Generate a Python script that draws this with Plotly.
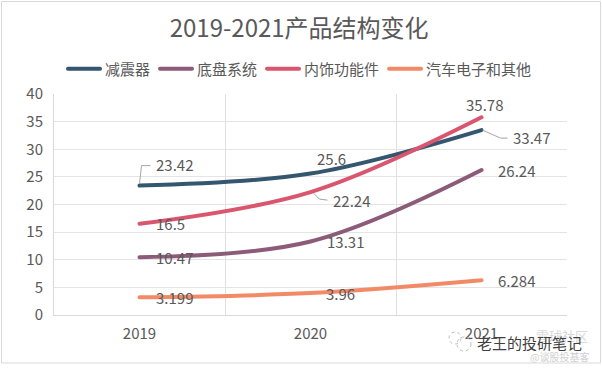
import plotly.graph_objects as go

years = ["2019", "2020", "2021"]
names = ["减震器", "底盘系统", "内饰功能件", "汽车电子和其他"]
shock = [23.42, 25.6, 33.47]
chassis = [10.47, 13.31, 26.24]
interior = [16.5, 22.24, 35.78]
electronics = [3.199, 3.96, 6.284]
series = [shock, chassis, interior, electronics]
colors = ["#34566f", "#8c5b78", "#d9566e", "#f28a68"]
# label pixel offsets relative to the points
offsets = [[(35, 21), (21, 15), (50, -7)],
           [(35, 0), (35, 0), (35, 0)],
           [(31, 0), (41, -8), (3, 13)],
           [(35, 0), (30, 0), (35, 0)]]
leaders = [(0, 23.42, "M 0 2 L 2 20 L 11 20"),
           (1, 22.24, "M 3 -1 L 9 -7 L 17 -8"),
           (2, 33.47, "M 1 0 L 19 -8 L 26 -8")]
TEXT = "#595959"
FONT = "Noto Sans CJK SC, Noto Sans, sans-serif"
W, H = 602, 370
L, T, R, B = 54, 94, 567, 315
def px(v): return (v - L) / (R - L)
def py(v): return (B - v) / (B - T)

fig = go.Figure()
for name, vals, c in zip(names, series, colors):
    fig.add_trace(go.Scatter(x=years, y=vals, name=name, mode="lines",
                             line=dict(color=c, width=4, shape="spline", smoothing=1.0),
                             hoverinfo="skip"))

for vals, off in zip(series, offsets):
    for i, (v, (dx, dy)) in enumerate(zip(vals, off)):
        fig.add_annotation(x=i, y=v, xref="x", yref="y", text=str(v), showarrow=False,
                           xshift=dx, yshift=dy, font=dict(size=15, color=TEXT, family=FONT))

for i, v, path in leaders:
    fig.add_shape(type="path", xsizemode="pixel", ysizemode="pixel", xref="x", yref="y",
                  xanchor=i, yanchor=v, path=path, line=dict(color="#a6a6a6", width=1))

# chart frame
fig.add_shape(type="rect", xref="paper", yref="paper", x0=px(1.5), x1=px(600.5), y0=py(363), y1=py(1.5),
              line=dict(color="#d9d9d9", width=1), layer="below")

# watermark
for cx, cy, r in [(455, 338, 6), (464, 344, 7)]:
    fig.add_shape(type="circle", xref="paper", yref="paper", x0=px(cx - r), x1=px(cx + r),
                  y0=py(cy + r), y1=py(cy - r), line=dict(color="#bdbdbd", width=1, dash="dot"))
fig.add_annotation(xref="paper", yref="paper", x=px(590), y=py(335), text="雪球社区", showarrow=False,
                   xanchor="right", yanchor="middle", font=dict(size=13, color="#d8d8d8", family=FONT))
fig.add_annotation(xref="paper", yref="paper", x=px(584), y=py(342), text="老王的投研笔记", showarrow=False,
                   xanchor="right", yanchor="middle", font=dict(size=15, color="#3f3f3f", family=FONT))
fig.add_annotation(xref="paper", yref="paper", x=px(591), y=py(356), text="@谈股投基客", showarrow=False,
                   xanchor="right", yanchor="middle", font=dict(size=10, color="#cfcfcf", family=FONT))

fig.update_layout(
    width=W, height=H, margin=dict(l=L, r=W - R, t=T, b=H - B),
    paper_bgcolor="white", plot_bgcolor="white",
    title=dict(text="2019-2021产品结构变化", x=0.497, xanchor="center", xref="container",
               y=0.924, yanchor="middle", font=dict(size=24, color=TEXT, family=FONT)),
    legend=dict(orientation="h", x=px(300), xanchor="center", y=py(69), yanchor="middle",
                font=dict(size=15, color=TEXT, family=FONT), itemwidth=32),
    xaxis=dict(type="category", tickson="boundaries", range=[-0.5, 2.5], showgrid=True,
               gridcolor="#e0e0e0", linecolor="#d9d9d9", showline=True, ticks="", ticklen=0,
               ticklabelstandoff=5, tickfont=dict(size=15, color=TEXT, family=FONT)),
    yaxis=dict(range=[0, 40], dtick=5, showgrid=True, gridcolor="#e4e4e4", linecolor="#d9d9d9",
               showline=True, zeroline=False, ticks="", ticklen=0,
               ticklabelstandoff=7, tickfont=dict(size=15, color=TEXT, family=FONT)),
)
post = """
document.documentElement.style.margin='0';
document.body.style.margin='0';
document.querySelectorAll('.js-line, .legendlines path').forEach(function(p){p.style.strokeLinecap='round';});
"""
fig.write_html("out.html", post_script=post, config={"displayModeBar": False})
